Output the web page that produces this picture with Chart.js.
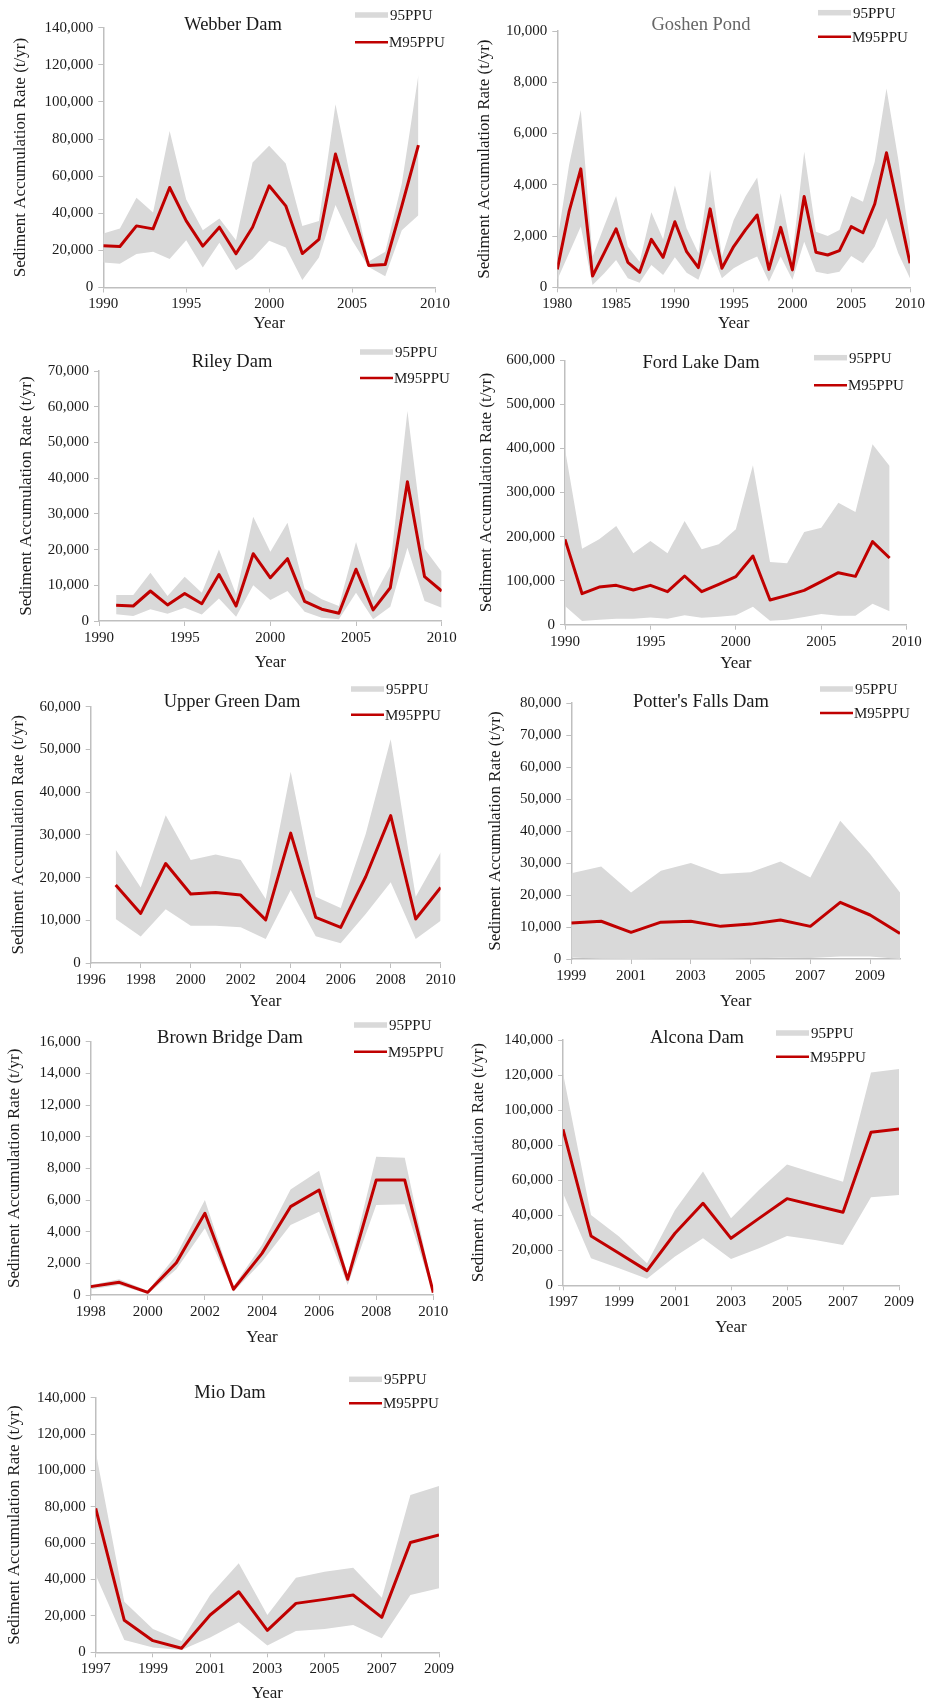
<!DOCTYPE html>
<html>
<head>
<meta charset="utf-8">
<title>Sediment accumulation rates at nine reservoirs</title>
<script src="https://cdn.jsdelivr.net/npm/chart.js@4.4.1/dist/chart.umd.min.js"></script>
<style>
  html, body { margin: 0; padding: 0; background: #ffffff; }
  #page { position: relative; width: 928px; height: 1703px; overflow: hidden; background: #ffffff; }
  #page canvas { position: absolute; }
</style>
</head>
<body>
<div id="page"></div>
<script>
// ---- Webber Dam ----
const webberYears = [1990, 1991, 1992, 1993, 1994, 1995, 1996, 1997, 1998, 1999, 2000, 2001, 2002, 2003, 2004, 2005, 2006, 2007, 2008, 2009];
const webberMean  = [22500, 22100, 33200, 31600, 53900, 35900, 22300, 32500, 18150, 32500, 54800, 44000, 18300, 25900, 71900, 42000, 11900, 12400, 44000, 76700];
const webberUpper = [29100, 31800, 48300, 40400, 84300, 47400, 30900, 37200, 25500, 67400, 76400, 66800, 33100, 35800, 98700, 55000, 14000, 19200, 56000, 114500];
const webberLower = [13500, 12800, 18000, 19200, 15300, 25500, 10800, 24100, 9300, 15500, 25200, 21600, 4000, 16200, 44400, 25500, 11100, 6100, 30900, 39000];
const webberXTicks = [1990, 1995, 2000, 2005, 2010];

// ---- Goshen Pond ----
const goshenYears = [1980, 1981, 1982, 1983, 1984, 1985, 1986, 1987, 1988, 1989, 1990, 1991, 1992, 1993, 1994, 1995, 1996, 1997, 1998, 1999, 2000, 2001, 2002, 2003, 2004, 2005, 2006, 2007, 2008, 2009, 2010];
const goshenMean  = [700, 2950, 4620, 440, 1350, 2280, 975, 585, 1870, 1170, 2560, 1390, 770, 3060, 740, 1590, 2240, 2820, 700, 2340, 680, 3540, 1370, 1260, 1430, 2370, 2130, 3250, 5250, 3100, 940];
const goshenUpper = [1800, 4770, 6920, 1200, 2400, 3560, 1590, 1000, 2930, 1870, 3970, 2300, 1330, 4580, 1200, 2630, 3540, 4280, 1330, 3670, 1260, 5290, 2170, 2000, 2240, 3560, 3340, 4900, 7760, 5000, 1780];
const goshenLower = [290, 1330, 2370, 90, 550, 1070, 350, 180, 870, 480, 1170, 570, 290, 1520, 350, 740, 1000, 1200, 220, 1200, 290, 1780, 610, 520, 610, 1220, 940, 1590, 2690, 1330, 350];
const goshenXTicks = [1980, 1985, 1990, 1995, 2000, 2005, 2010];

// ---- Riley Dam ----
const rileyYears = [1991, 1992, 1993, 1994, 1995, 1996, 1997, 1998, 1999, 2000, 2001, 2002, 2003, 2004, 2005, 2006, 2007, 2008, 2009, 2010];
const rileyMean  = [4400, 4200, 8400, 4500, 7700, 4850, 13000, 4200, 18850, 12100, 17450, 5500, 3300, 2150, 14500, 3100, 9300, 39000, 12400, 8400];
const rileyUpper = [7300, 7300, 13500, 7000, 12400, 7900, 20000, 7500, 29200, 19400, 27500, 9000, 6100, 4200, 22100, 6500, 15400, 58800, 20200, 13800];
const rileyLower = [1900, 1400, 3300, 2050, 3700, 1800, 6300, 1200, 10000, 5900, 8400, 2600, 930, 470, 7900, 470, 4000, 20500, 5600, 3700];
const rileyXTicks = [1990, 1995, 2000, 2005, 2010];

// ---- Ford Lake Dam ----
const fordYears = [1990, 1991, 1992, 1993, 1994, 1995, 1996, 1997, 1998, 1999, 2000, 2001, 2002, 2003, 2004, 2005, 2006, 2007, 2008, 2009];
const fordMean  = [193700, 70400, 85500, 89300, 78700, 89300, 74900, 110500, 74900, 91500, 109000, 155900, 56000, 66600, 77900, 97600, 118000, 109700, 188400, 151300];
const fordUpper = [398000, 172500, 193700, 224000, 161900, 189900, 161900, 235300, 171000, 182300, 216400, 361700, 142200, 139200, 210300, 220200, 276900, 255700, 409300, 360100];
const fordLower = [42400, 8300, 11300, 13600, 13600, 16600, 13600, 21200, 15900, 18200, 21200, 40900, 9100, 11300, 17400, 24200, 20400, 20400, 47700, 30300];
const fordXTicks = [1990, 1995, 2000, 2005, 2010];

// ---- Upper Green Dam ----
const upperGreenYears = [1997, 1998, 1999, 2000, 2001, 2002, 2003, 2004, 2005, 2006, 2007, 2008, 2009, 2010];
const upperGreenMean  = [18250, 11600, 23300, 16150, 16500, 15900, 10100, 30400, 10700, 8350, 20200, 34500, 10300, 17700];
const upperGreenUpper = [26500, 17700, 34600, 24100, 25400, 24100, 15000, 44800, 15500, 12900, 30200, 52400, 15500, 25900];
const upperGreenLower = [10300, 6200, 12600, 8700, 8700, 8350, 5600, 17100, 6250, 4600, 11500, 18900, 5600, 9900];
const upperGreenXTicks = [1996, 1998, 2000, 2002, 2004, 2006, 2008, 2010];

// ---- Potter's Falls Dam ----
const pottersYears = [1999, 2000, 2001, 2002, 2003, 2004, 2005, 2006, 2007, 2008, 2009, 2010];
const pottersMean  = [11250, 11800, 8340, 11500, 11800, 10200, 10900, 12200, 10200, 17700, 13750, 8000];
const pottersUpper = [26800, 28900, 20800, 27600, 30000, 26600, 27100, 30500, 25500, 43200, 32800, 20800];
const pottersLower = [500, 100, 0, 100, 100, 100, 200, 400, 300, 800, 800, 0];
const pottersXTicks = [1999, 2001, 2003, 2005, 2007, 2009];

// ---- Brown Bridge Dam ----
const brownYears = [1998, 1999, 2000, 2001, 2002, 2003, 2004, 2005, 2006, 2007, 2008, 2009, 2010];
const brownMean  = [530, 800, 170, 2040, 5160, 360, 2630, 5580, 6630, 990, 7260, 7260, 150];
const brownUpper = [630, 990, 270, 2530, 6000, 530, 3160, 6670, 7850, 1260, 8740, 8670, 250];
const brownLower = [360, 630, 60, 1620, 4210, 210, 2100, 4420, 5260, 630, 5680, 5730, 60];
const brownXTicks = [1998, 2000, 2002, 2004, 2006, 2008, 2010];

// ---- Alcona Dam ----
const alconaYears = [1997, 1998, 1999, 2000, 2001, 2002, 2003, 2004, 2005, 2006, 2007, 2008, 2009];
const alconaMean  = [89000, 28150, 18300, 8370, 29700, 46800, 26800, 38200, 49450, 45500, 41650, 87300, 89200];
const alconaUpper = [121000, 40100, 27800, 12550, 43000, 64900, 38200, 54400, 69000, 63900, 59150, 121400, 123400];
const alconaLower = [52500, 15400, 9700, 3800, 16400, 26800, 15000, 21100, 28150, 25900, 23000, 50200, 51500];
const alconaXTicks = [1997, 1999, 2001, 2003, 2005, 2007, 2009];

// ---- Mio Dam ----
const mioYears = [1997, 1998, 1999, 2000, 2001, 2002, 2003, 2004, 2005, 2006, 2007, 2008, 2009];
const mioMean  = [79150, 17600, 6400, 2200, 20500, 33300, 12100, 26900, 29100, 31500, 19200, 60400, 64500];
const mioUpper = [110300, 27800, 12800, 6200, 31500, 48900, 20500, 41000, 44300, 46500, 30000, 86500, 91400];
const mioLower = [42500, 6800, 2700, 1300, 8100, 16500, 3700, 11700, 12800, 15000, 7700, 31500, 35200];
const mioXTicks = [1997, 1999, 2001, 2003, 2005, 2007, 2009];

const yAxisTitle = 'Sediment Accumulation Rate (t/yr)';
const xAxisTitle = 'Year';
const bandLabel = '95PPU';
const lineLabel = 'M95PPU';

// ---- styling ----
const SERIF = "'Liberation Serif', 'Times New Roman', Times, serif";
const INK = '#1a1a1a';
const AXIS = '#bfbfbf';
const BAND = '#d9d9d9';
const RED = '#c00000';

// Page layout: canvas box, plot area, axis-title and annotation positions (page pixels)
const panels = [
  { title: 'Webber Dam', titleColor: INK, years: webberYears, mean: webberMean, upper: webberUpper, lower: webberLower,
    xTicks: webberXTicks, xMin: 1990, xMax: 2010, yMax: 140000, yStep: 20000,
    box: { x: 0, y: 0, w: 464, h: 340 }, plot: { l: 103.3, t: 27.7, r: 435, b: 287.5 },
    yTitleX: 21, xTitleY: 324, titleAt: [233, 25], legendAt: [355, 15, 42.3] },
  { title: 'Goshen Pond', titleColor: '#666666', years: goshenYears, mean: goshenMean, upper: goshenUpper, lower: goshenLower,
    xTicks: goshenXTicks, xMin: 1980, xMax: 2010, yMax: 10000, yStep: 2000,
    box: { x: 464, y: 0, w: 464, h: 340 }, plot: { l: 557.3, t: 31, r: 910, b: 287.3 },
    yTitleX: 484.7, xTitleY: 324, titleAt: [701, 25], legendAt: [818, 12.7, 36.7] },
  { title: 'Riley Dam', titleColor: INK, years: rileyYears, mean: rileyMean, upper: rileyUpper, lower: rileyLower,
    xTicks: rileyXTicks, xMin: 1990, xMax: 2010, yMax: 70000, yStep: 10000,
    box: { x: 0, y: 330, w: 464, h: 345 }, plot: { l: 99, t: 371, r: 441.7, b: 621 },
    yTitleX: 26.7, xTitleY: 663, titleAt: [232, 362], legendAt: [360, 352, 378] },
  { title: 'Ford Lake Dam', titleColor: INK, years: fordYears, mean: fordMean, upper: fordUpper, lower: fordLower,
    xTicks: fordXTicks, xMin: 1990, xMax: 2010, yMax: 600000, yStep: 100000,
    box: { x: 464, y: 330, w: 464, h: 345 }, plot: { l: 565, t: 360.3, r: 906.7, b: 624.7 },
    yTitleX: 486.7, xTitleY: 664, titleAt: [701, 362.7], legendAt: [814, 357.7, 385.3] },
  { title: 'Upper Green Dam', titleColor: INK, years: upperGreenYears, mean: upperGreenMean, upper: upperGreenUpper, lower: upperGreenLower,
    xTicks: upperGreenXTicks, xMin: 1996, xMax: 2010, yMax: 60000, yStep: 10000,
    box: { x: 0, y: 675, w: 464, h: 340 }, plot: { l: 90.7, t: 706.7, r: 440.7, b: 963 },
    yTitleX: 18.3, xTitleY: 1002, titleAt: [232, 702], legendAt: [351, 689, 714.7] },
  { title: "Potter's Falls Dam", titleColor: INK, years: pottersYears, mean: pottersMean, upper: pottersUpper, lower: pottersLower,
    xTicks: pottersXTicks, xMin: 1999, xMax: 2010, yMax: 80000, yStep: 10000,
    box: { x: 464, y: 675, w: 464, h: 340 }, plot: { l: 571.3, t: 703, r: 900, b: 959 },
    yTitleX: 495.7, xTitleY: 1002, titleAt: [701, 701.7], legendAt: [820, 689, 713] },
  { title: 'Brown Bridge Dam', titleColor: INK, years: brownYears, mean: brownMean, upper: brownUpper, lower: brownLower,
    xTicks: brownXTicks, xMin: 1998, xMax: 2010, yMax: 16000, yStep: 2000,
    box: { x: 0, y: 1015, w: 464, h: 335 }, plot: { l: 90.7, t: 1041.7, r: 433.3, b: 1295 },
    yTitleX: 15, xTitleY: 1338, titleAt: [230, 1038], legendAt: [354, 1025, 1051.7] },
  { title: 'Alcona Dam', titleColor: INK, years: alconaYears, mean: alconaMean, upper: alconaUpper, lower: alconaLower,
    xTicks: alconaXTicks, xMin: 1997, xMax: 2009, yMax: 140000, yStep: 20000,
    box: { x: 464, y: 1015, w: 464, h: 335 }, plot: { l: 563, t: 1040, r: 899, b: 1285.3 },
    yTitleX: 479, xTitleY: 1328, titleAt: [697, 1038], legendAt: [776, 1033, 1056.7] },
  { title: 'Mio Dam', titleColor: INK, years: mioYears, mean: mioMean, upper: mioUpper, lower: mioLower,
    xTicks: mioXTicks, xMin: 1997, xMax: 2009, yMax: 140000, yStep: 20000,
    box: { x: 0, y: 1350, w: 464, h: 353 }, plot: { l: 95.7, t: 1397.7, r: 439, b: 1652.3 },
    yTitleX: 15, xTitleY: 1694, titleAt: [230, 1393], legendAt: [349, 1379.3, 1403.3] }
];

// Panel heading and the two-entry key, drawn over the plot
const panelDecor = {
  id: 'panelDecor',
  afterDraw(chart, args, o) {
    const ctx = chart.ctx;
    const band = chart.data.datasets[0];
    const line = chart.data.datasets[2];
    ctx.save();
    ctx.textBaseline = 'middle';
    ctx.font = '18.5px ' + SERIF;
    ctx.textAlign = 'center';
    ctx.fillStyle = o.titleColor;
    ctx.fillText(o.title, o.titleX, o.titleY);

    ctx.font = '15px ' + SERIF;
    ctx.textAlign = 'left';
    ctx.fillStyle = band.backgroundColor;
    ctx.fillRect(o.keyX, o.bandY - 2.75, 33, 5.5);
    ctx.fillStyle = INK;
    ctx.fillText(band.label, o.keyX + 35, o.bandY + 1);

    ctx.strokeStyle = line.borderColor;
    ctx.lineWidth = 2.5;
    ctx.beginPath();
    ctx.moveTo(o.keyX, o.lineY);
    ctx.lineTo(o.keyX + 33, o.lineY);
    ctx.stroke();
    ctx.fillText(line.label, o.keyX + 34, o.lineY + 1);
    ctx.restore();
  }
};

const toPoints = (xs, ys) => xs.map((x, i) => ({ x: x, y: ys[i] }));
const page = document.getElementById('page');

panels.forEach((p) => {
  const canvas = document.createElement('canvas');
  canvas.width = p.box.w;
  canvas.height = p.box.h;
  canvas.style.left = p.box.x + 'px';
  canvas.style.top = p.box.y + 'px';
  canvas.style.width = p.box.w + 'px';
  canvas.style.height = p.box.h + 'px';
  page.appendChild(canvas);

  const tickFont = { family: SERIF, size: 15 };
  const titleFont = { family: SERIF, size: 17, lineHeight: 1 };
  const yScaleWidth = p.plot.l - p.box.x;
  const xScaleHeight = p.box.y + p.box.h - p.plot.b;

  new Chart(canvas, {
    type: 'line',
    data: {
      datasets: [
        { label: bandLabel, data: toPoints(p.years, p.upper), fill: '+1', backgroundColor: BAND,
          borderColor: 'rgba(0,0,0,0)', borderWidth: 0, pointRadius: 0, tension: 0, order: 2 },
        { label: '', data: toPoints(p.years, p.lower), fill: false, backgroundColor: BAND,
          borderColor: 'rgba(0,0,0,0)', borderWidth: 0, pointRadius: 0, tension: 0, order: 1 },
        { label: lineLabel, data: toPoints(p.years, p.mean), fill: false, borderColor: RED,
          borderWidth: 3, pointRadius: 0, tension: 0, borderJoinStyle: 'round', order: 0 }
      ]
    },
    options: {
      responsive: false,
      animation: false,
      events: [],
      layout: { padding: { left: 0, top: p.plot.t - p.box.y, right: p.box.x + p.box.w - p.plot.r, bottom: 0 } },
      plugins: {
        legend: { display: false },
        tooltip: { enabled: false },
        panelDecor: {
          title: p.title, titleColor: p.titleColor,
          titleX: p.titleAt[0] - p.box.x, titleY: p.titleAt[1] - p.box.y,
          keyX: p.legendAt[0] - p.box.x, bandY: p.legendAt[1] - p.box.y, lineY: p.legendAt[2] - p.box.y
        }
      },
      scales: {
        x: {
          type: 'linear', min: p.xMin, max: p.xMax, bounds: 'data',
          afterBuildTicks: (s) => { s.ticks = p.xTicks.map((v) => ({ value: v })); },
          afterFit: (s) => { s.height = xScaleHeight; },
          ticks: { color: INK, font: tickFont, padding: 3, maxRotation: 0, minRotation: 0, autoSkip: false,
                   callback: (v) => String(v) },
          grid: { drawOnChartArea: false, drawTicks: true, tickLength: 5, color: AXIS, lineWidth: 1 },
          border: { display: true, color: AXIS, width: 1.5 },
          title: { display: true, text: xAxisTitle, color: INK, font: titleFont,
                   padding: { top: 0, bottom: p.box.y + p.box.h - p.xTitleY - 8.5 } }
        },
        y: {
          type: 'linear', min: 0, max: p.yMax, bounds: 'data',
          afterFit: (s) => { s.width = yScaleWidth; },
          ticks: { stepSize: p.yStep, color: INK, font: tickFont, padding: 5,
                   callback: (v) => Number(v).toLocaleString('en-US') },
          grid: { drawOnChartArea: false, drawTicks: true, tickLength: 5, color: AXIS, lineWidth: 1 },
          border: { display: true, color: AXIS, width: 1.5 },
          title: { display: true, text: yAxisTitle, color: INK, font: titleFont,
                   padding: { top: p.yTitleX - p.box.x - 8.5, bottom: 0 } }
        }
      }
    },
    plugins: [panelDecor]
  });
});
</script>
</body>
</html>
